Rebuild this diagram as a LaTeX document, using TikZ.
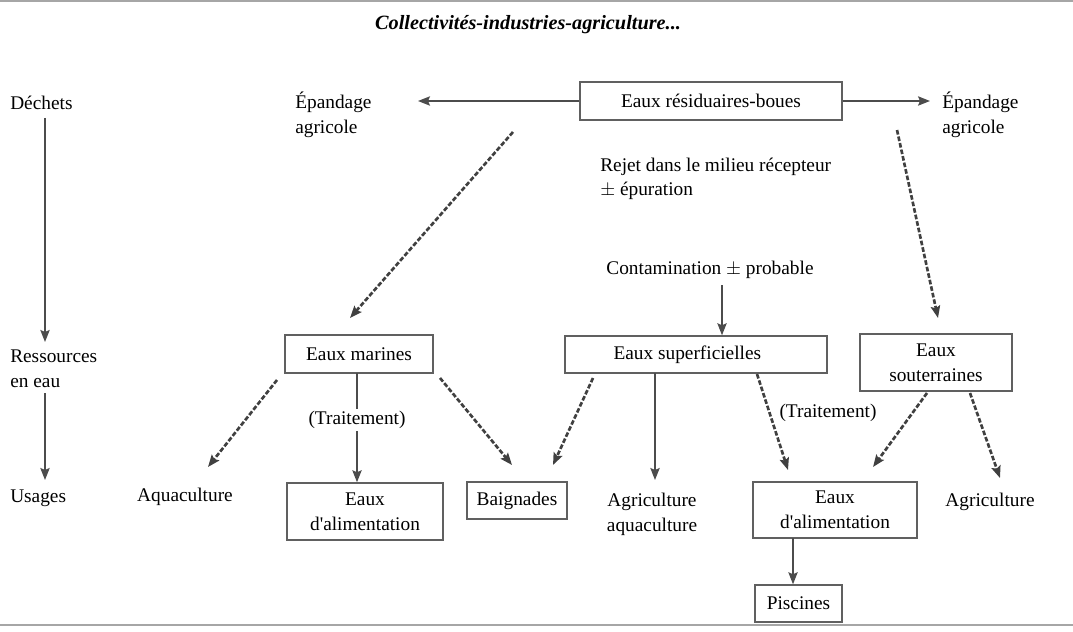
\documentclass[tikz,border=0pt]{standalone}
\usepackage{fontspec}
\setmainfont{Liberation Serif}[Ligatures=TeXOff]
\usetikzlibrary{arrows.meta}
\begin{document}
\begin{tikzpicture}[x=0.75pt,y=-0.75pt,
  every node/.style={font=\fontsize{14.5}{18.5}\selectfont, inner sep=0pt},
  box/.style={draw=gray!75!black, line width=1.1pt, align=center},
  lbl/.style={align=left},
  solidarr/.style={draw=gray!60!black, line width=1.1pt, -{Stealth[length=9pt,width=7pt,inset=1.5pt]}},
  dasharr/.style={draw=black!75, line width=2pt, dash pattern=on 3.5pt off 1.5pt, -{Stealth[length=9pt,width=7pt,inset=1.5pt]}},
  rule/.style={draw=gray!70, line width=1.5pt}
]
\useasboundingbox (0,0) rectangle (1073,631);
\coordinate (tl) at (0,1); \coordinate (tr) at (1073,1);
\coordinate (bl) at (0,625); \coordinate (br) at (1073,625);
\draw[rule] (tl) -- (tr);
\draw[rule] (bl) -- (br);

% title
\node[font=\fontsize{15.2}{18}\selectfont] (title) at (528,25) {\textbf{\textit{Collectivités-industries-agriculture...}}};

% left column
\node[anchor=west] (dechets) at (10,103) {Déchets};
\node[anchor=west,lbl] (ress) at (10,369) {Ressources\\en eau};
\node[anchor=west] (usages) at (10,498) {Usages};
\coordinate (a1s) at (45,118); \coordinate (a1e) at (45,342);
\coordinate (a2s) at (45,393); \coordinate (a2e) at (45,480);
\draw[solidarr] (a1s) -- (a1e);
\draw[solidarr] (a2s) -- (a2e);

% boxes
\node[box, minimum width=196.5pt, minimum height=28.5pt] (resid) at (711,101) {Eaux résiduaires-boues};
\node[box, minimum width=111pt, minimum height=28.5pt] (marines) at (359,354) {Eaux marines};
\node[box, minimum width=196.5pt, minimum height=27.75pt] (superf) at (696,354.5) {Eaux superficielles\hspace*{13pt}};
\node[box, minimum width=114pt, minimum height=42.75pt] (souter) at (936,362.5) {Eaux\\souterraines};
\node[box, minimum width=117pt, minimum height=42.75pt] (alimL) at (365,511.5) {Eaux\\d'alimentation};
\node[box, minimum width=75pt, minimum height=28pt] (baign) at (517,500.5) {Baignades};
\node[box, minimum width=123pt, minimum height=42pt] (alimR) at (835,510) {Eaux\\d'alimentation};
\node[box, minimum width=65.25pt, minimum height=27.75pt] (pisc) at (798.5,603.5) {Piscines};

% texts
\node[anchor=west,lbl] (epL) at (295,115) {Épandage\\agricole};
\node[anchor=west,lbl] (epR) at (942,115) {Épandage\\agricole};
\node[anchor=west,lbl] (rejet) at (600,179) {Rejet dans le milieu récepteur\\$\pm$ épuration};
\node (contam) at (710,270) {Contamination $\pm$ probable};
\node (aqua) at (185,497) {Aquaculture};
\node[align=center] (agriaqua) at (652,514.5) {Agriculture\\aquaculture};
\node (agri) at (990,502) {Agriculture};

% connectors from resid
\coordinate (epLend) at (418,101);
\coordinate (epRend) at (930,101);
\draw[solidarr] (resid.west) -- (epLend);
\draw[solidarr] (resid.east) -- (epRend);
\coordinate (d1s) at (513,132); \coordinate (d1e) at (350,318);
\coordinate (d2s) at (897,130); \coordinate (d2e) at (938,318);
\draw[dasharr] (d1s) -- (d1e);
\draw[dasharr] (d2s) -- (d2e);

% contamination
\coordinate (c1s) at (722,285);
\draw[solidarr] (c1s) -- (superf.north -| c1s);

% from marines
\coordinate (m1s) at (277,380); \coordinate (m1e) at (208,467);
\draw[dasharr] (m1s) -- (m1e);
\coordinate (m2s) at (357,373);
\draw[solidarr] (m2s) -- (alimL.north -| m2s);
\node[fill=white, inner ysep=2pt] (trait1) at (357,420) {(Traitement)};
\coordinate (m3s) at (440,378); \coordinate (m3e) at (512,465);
\draw[dasharr] (m3s) -- (m3e);

% from superficielles
\coordinate (s1s) at (593,378); \coordinate (s1e) at (553,465);
\draw[dasharr] (s1s) -- (s1e);
\coordinate (s2s) at (655,373); \coordinate (s2e) at (655,480);
\draw[solidarr] (s2s) -- (s2e);
\coordinate (s3s) at (757,374); \coordinate (s3e) at (788,470);
\draw[dasharr] (s3s) -- (s3e);
\node (trait2) at (828,413) {(Traitement)};

% from souterraines
\coordinate (u1s) at (927,393); \coordinate (u1e) at (873,467);
\draw[dasharr] (u1s) -- (u1e);
\coordinate (u2s) at (970,393); \coordinate (u2e) at (1000,478);
\draw[dasharr] (u2s) -- (u2e);

% alimentation -> piscines
\coordinate (p1s) at (793,538);
\draw[solidarr] (p1s) -- (pisc.north -| p1s);
\end{tikzpicture}
\end{document}
